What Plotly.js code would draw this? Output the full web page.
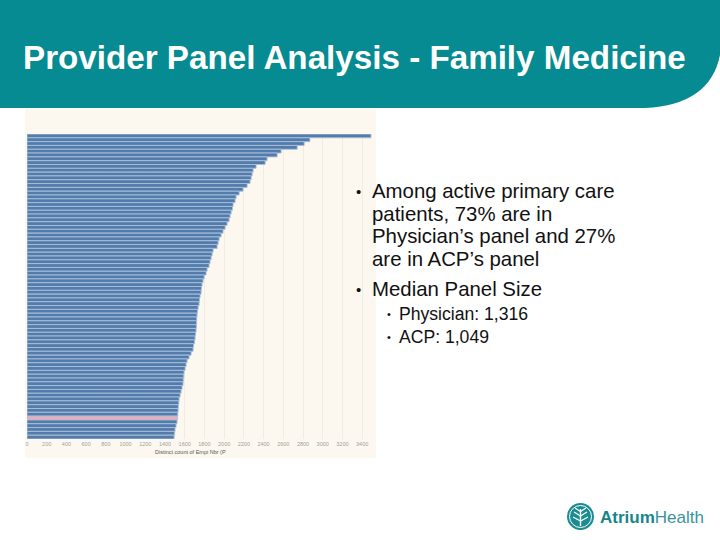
<!DOCTYPE html>
<html>
<head>
<meta charset="utf-8">
<script src="https://cdn.plot.ly/plotly-3.0.1.min.js"></script>
<style>
  html, body { margin: 0; padding: 0; background: #ffffff; }
  #chart { width: 720px; height: 540px; }
</style>
</head>
<body>
<div id="chart"></div>
<script>
// ---- Data ----
const panelSizes = [
  3490, 2870, 2812, 2741, 2578, 2538, 2436, 2416, 2324, 2294,
  2284, 2274, 2263, 2233, 2192, 2152, 2121, 2111, 2091, 2085,
  2071, 2060, 2050, 2030, 2010, 1989, 1969, 1949, 1939, 1929,
  1888, 1878, 1868, 1857, 1847, 1827, 1817, 1797, 1786, 1776,
  1770, 1766, 1756, 1750, 1746, 1736, 1730, 1725, 1722, 1720,
  1718, 1715, 1710, 1705, 1700, 1690, 1685, 1665, 1644, 1624,
  1614, 1604, 1593, 1590, 1585, 1583, 1573, 1563, 1553, 1543,
  1540, 1535, 1533, 1530, 1528, 1522, 1512, 1502, 1498, 1492
];
const providers = panelSizes.map((v, i) => 'Provider ' + (i + 1));
const highlightedProvider = 'Provider 75';
const xTickValues = [0, 200, 400, 600, 800, 1000, 1200, 1400, 1600, 1800, 2000, 2200, 2400, 2600, 2800, 3000, 3200, 3400];
const xTickLabels = xTickValues.map(String);
const axisTitle = 'Distinct count of Empi Nbr (P';
const slideTitle = 'Provider Panel Analysis - Family Medicine';
const bulletLines = [
  'Among active primary care',
  'patients, 73% are in',
  'Physician\u2019s panel and 27%',
  'are in ACP\u2019s panel'
];
const bullet2 = 'Median Panel Size';
const subBullets = ['Physician: 1,316', 'ACP: 1,049'];

// ---- Layout geometry (pixels) ----
const W = 720, H = 540;
const L = 27, R = 372, T = 134, B = 439;
const PW = R - L, PH = B - T;
const px = x => (x - L) / PW;
const py = y => (B - y) / PH;

const barColors = providers.map(p => p === highlightedProvider ? '#f2a9b6' : '#547cab');

const trace = {
  type: 'bar',
  orientation: 'h',
  x: panelSizes,
  y: providers,
  marker: { color: barColors, line: { color: '#a9c1de', width: 0.9 } },
  hoverinfo: 'x+y'
};

function pathFromPixels(cmds) {
  return cmds.map(c => {
    if (c.length === 1) return c[0];
    const out = [c[0]];
    for (let i = 1; i < c.length; i += 2) {
      out.push(px(c[i]).toFixed(5) + ',' + py(c[i + 1]).toFixed(5));
    }
    return out.join(' ');
  }).join(' ');
}

const teal = '#058b91';
const headerPath = pathFromPixels([
  ['M', 0, 0], ['L', 720, 0], ['L', 720, 55], ['Q', 710, 105, 645, 108], ['L', 0, 108], ['Z']
]);

const shapes = [
  { type: 'path', xref: 'paper', yref: 'paper', path: headerPath, fillcolor: teal, line: { width: 0 }, layer: 'below' },
  { type: 'rect', xref: 'paper', yref: 'paper', x0: px(25), x1: px(376), y0: py(458), y1: py(109),
    fillcolor: '#fdf8ef', line: { width: 0 }, layer: 'below' },
  // logo circle
  { type: 'circle', xref: 'paper', yref: 'paper', x0: px(567), x1: px(594), y0: py(530), y1: py(503),
    fillcolor: '#1a8c92', line: { width: 0 } },
  { type: 'circle', xref: 'paper', yref: 'paper', x0: px(569.5), x1: px(591.5), y0: py(527.5), y1: py(505.5),
    fillcolor: 'rgba(0,0,0,0)', line: { color: '#ffffff', width: 1 } },
  { type: 'path', xref: 'paper', yref: 'paper',
    path: pathFromPixels([['M', 580.5, 526], ['L', 580.5, 509]]), line: { color: '#ffffff', width: 1.4 } },
  { type: 'path', xref: 'paper', yref: 'paper',
    path: pathFromPixels([['M', 574, 512], ['L', 580.5, 516], ['L', 587, 512]]), line: { color: '#ffffff', width: 1.2 } },
  { type: 'path', xref: 'paper', yref: 'paper',
    path: pathFromPixels([['M', 573, 517], ['L', 580.5, 521], ['L', 588, 517]]), line: { color: '#ffffff', width: 1.2 } },
  { type: 'path', xref: 'paper', yref: 'paper',
    path: pathFromPixels([['M', 575, 508], ['L', 580.5, 511.5], ['L', 586, 508]]), line: { color: '#ffffff', width: 1.2 } }
];

const font = 'Liberation Sans, Arial, sans-serif';
const annotations = [
  { text: '<b>' + slideTitle + '</b>', x: px(21), y: py(57), xref: 'paper', yref: 'paper',
    xanchor: 'left', yanchor: 'middle', showarrow: false, font: { family: font, size: 33.2, color: '#ffffff' } },
  { text: axisTitle, x: px(190), y: py(452), xref: 'paper', yref: 'paper',
    xanchor: 'center', yanchor: 'middle', showarrow: false, font: { family: font, size: 5.5, color: '#555555' } }
];
const lineY = [191, 214, 236, 259];
bulletLines.forEach((t, i) => {
  annotations.push({ text: t, x: px(370), y: py(lineY[i]), xref: 'paper', yref: 'paper',
    xanchor: 'left', yanchor: 'middle', showarrow: false, font: { family: font, size: 20.4, color: '#111111' } });
});
annotations.push({ text: '\u2022', x: px(354), y: py(191), xref: 'paper', yref: 'paper',
  xanchor: 'left', yanchor: 'middle', showarrow: false, font: { family: font, size: 15, color: '#111111' } });
annotations.push({ text: bullet2, x: px(370), y: py(289), xref: 'paper', yref: 'paper',
  xanchor: 'left', yanchor: 'middle', showarrow: false, font: { family: font, size: 20.4, color: '#111111' } });
annotations.push({ text: '\u2022', x: px(354), y: py(289), xref: 'paper', yref: 'paper',
  xanchor: 'left', yanchor: 'middle', showarrow: false, font: { family: font, size: 15, color: '#111111' } });
const subY = [314, 337];
subBullets.forEach((t, i) => {
  annotations.push({ text: t, x: px(397), y: py(subY[i]), xref: 'paper', yref: 'paper',
    xanchor: 'left', yanchor: 'middle', showarrow: false, font: { family: font, size: 17.6, color: '#111111' } });
  annotations.push({ text: '\u2022', x: px(385), y: py(subY[i]), xref: 'paper', yref: 'paper',
    xanchor: 'left', yanchor: 'middle', showarrow: false, font: { family: font, size: 11, color: '#111111' } });
});
annotations.push({
  text: '<b><span style="color:#16868c">Atrium</span></b><span style="color:#3b939a">Health</span>',
  x: px(598), y: py(517), xref: 'paper', yref: 'paper', xanchor: 'left', yanchor: 'middle', showarrow: false,
  font: { family: font, size: 17, color: '#16868c' }
});

const layout = {
  width: W, height: H,
  margin: { l: L, r: W - R, t: T, b: H - B, pad: 0 },
  paper_bgcolor: '#ffffff',
  plot_bgcolor: 'rgba(0,0,0,0)',
  showlegend: false,
  bargap: 0,
  xaxis: {
    range: [0, 3500], tickvals: xTickValues, ticktext: xTickLabels,
    tickfont: { family: font, size: 5.5, color: '#a0a0a0' },
    showgrid: true, gridcolor: '#f1ece2', gridwidth: 1, zeroline: false, showline: false, ticks: '', fixedrange: true
  },
  yaxis: {
    type: 'category', autorange: 'reversed', showticklabels: false, showgrid: false,
    zeroline: false, showline: false, ticks: '', fixedrange: true
  },
  shapes: shapes,
  annotations: annotations
};

Plotly.newPlot('chart', [trace], layout, { displayModeBar: false, staticPlot: true });
</script>
</body>
</html>
